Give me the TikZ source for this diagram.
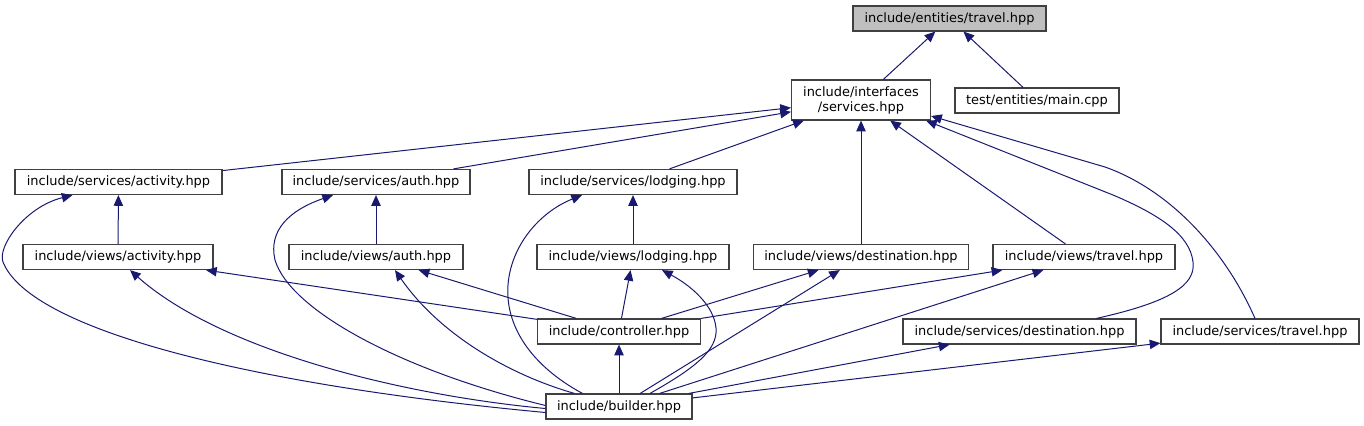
\documentclass[tikz,border=0pt]{standalone}
\usepackage{fontspec}
\setmainfont{DejaVu Sans}
\usetikzlibrary{arrows.meta,calc}
\definecolor{edgeblue}{HTML}{191970}
\definecolor{boxline}{HTML}{404040}
\definecolor{boxgray}{HTML}{BFBFBF}
\begin{document}
\begin{tikzpicture}[x=0.75pt, y=-0.75pt]
	\tikzset{
		file/.style={draw=boxline, line width=0.9pt, fill=white, inner sep=0pt,
			minimum height=18.75pt, font=\fontsize{9.7}{11.25}\selectfont},
		wide/.style={minimum width=#1*0.75pt},
		edge/.style={draw=edgeblue, line width=0.75pt, -{Triangle[length=8pt, width=7pt]}}
	}
	\useasboundingbox (0,0) rectangle (1364,425);
	% files
	\node[file, wide=193, fill=boxgray] (travel) at (949.5,18.5) {include/entities/travel.hpp};
	\node[file, wide=139, minimum height=30pt, align=center] (sh) at (861,100) {include/interfaces\\/services.hpp};
	\node[file, wide=164] (main) at (1037,100.5) {test/entities/main.cpp};
	\node[file, wide=207] (sact) at (118.5,182) {include/services/activity.hpp};
	\node[file, wide=188] (sauth) at (376,182) {include/services/auth.hpp};
	\node[file, wide=208] (slodg) at (633,182) {include/services/lodging.hpp};
	\node[file, wide=190] (vact) at (118,257) {include/views/activity.hpp};
	\node[file, wide=174] (vauth) at (376,257) {include/views/auth.hpp};
	\node[file, wide=192] (vlodg) at (633,257) {include/views/lodging.hpp};
	\node[file, wide=215] (vdest) at (861,257) {include/views/destination.hpp};
	\node[file, wide=182] (vtrav) at (1084,257) {include/views/travel.hpp};
	\node[file, wide=163] (ctrl) at (619,331.5) {include/controller.hpp};
	\node[file, wide=233] (sdest) at (1019.5,331.5) {include/services/destination.hpp};
	\node[file, wide=198] (strav) at (1260,331.5) {include/services/travel.hpp};
	\node[file, wide=146] (build) at (619,406.5) {include/builder.hpp};
	% straight includes
	\foreach \src/\dst in {sh/travel, main/travel, sact/sh, sauth/sh, slodg/sh, vdest/sh, vtrav/sh,
			vact/sact, vauth/sauth, vlodg/slodg, ctrl/vact, ctrl/vauth, ctrl/vlodg, ctrl/vdest, ctrl/vtrav,
			build/ctrl, build/vdest, build/vtrav, build/sdest, build/strav}
		\draw[edge] (\src) -- (\dst);
	% curved includes
	\draw[edge] ($(build.west)+(0,6)$) .. controls (250,385) and (30,330) .. (3,262)
		.. controls (-3,247) and (25,207) .. ($(sact.south)+(-46,0)$);
	\draw[edge] ($(build.west)+(0,2)$) .. controls (400,395) and (220,350) .. ($(vact.south)+(12,0)$);
	\draw[edge] ($(build.west)+(0,-1)$) .. controls (400,370) and (290,310) .. (275,260)
		.. controls (268,230) and (290,210) .. ($(sauth.south)+(-43,0)$);
	\draw[edge] ($(build.north west)+(29,0)$) .. controls (510,375) and (440,335) .. ($(vauth.south)+(19,0)$);
	\draw[edge] ($(build.north west)+(37,0)$) .. controls (530,365) and (505,325) .. (508,285)
		.. controls (511,245) and (540,212) .. ($(slodg.south)+(-51,0)$);
	\draw[edge] ($(build.north)+(31,0)$) .. controls (695,368) and (718,350) .. (716,328)
		.. controls (714,305) and (690,285) .. ($(vlodg.south)+(29,0)$);
	\draw[edge] ($(sdest.north)+(77,0)$) .. controls (1170,302) and (1196,285) .. (1193,262)
		.. controls (1190,235) and (1160,215) .. (1113,195) -- ($(sh.south east)+(-5,0)$);
	\draw[edge] ($(strav.north)+(-5,0)$) .. controls (1225,250) and (1170,190) .. (1105,167)
		-- ($(sh.east)+(0,16)$);
\end{tikzpicture}
\end{document}
